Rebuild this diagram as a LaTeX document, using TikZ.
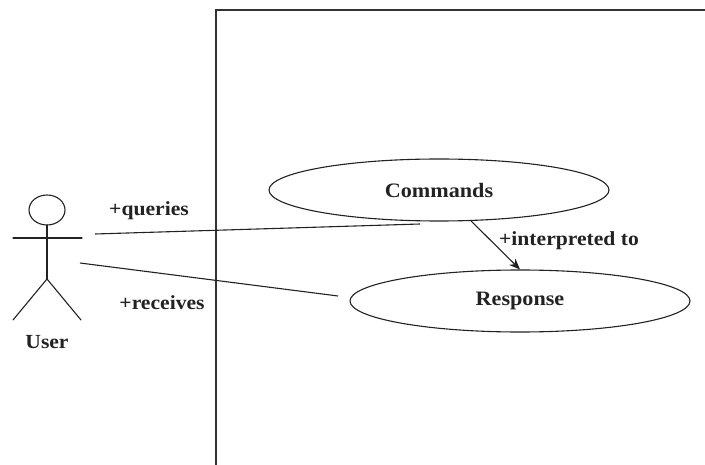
\documentclass[tikz,border=0pt]{standalone}
\usepackage{fontspec}
\setmainfont{Liberation Serif}[FakeStretch=1.08]
\usetikzlibrary{shapes.geometric,arrows.meta}
\definecolor{ink}{HTML}{222222}
\begin{document}
\begin{tikzpicture}[x=1pt,y=-1pt,
  usecase/.style={ellipse,draw=ink,line width=1.1pt,minimum width=340pt,minimum height=62pt,inner sep=0pt,font=\fontsize{20.5}{22}\selectfont\bfseries,text=ink},
  lbl/.style={font=\fontsize{20}{22}\selectfont\bfseries,text=ink,inner sep=0pt},
  conn/.style={draw=ink,line width=1.1pt},
  figure/.style={draw=ink,line width=1.1pt,line cap=round}]
\useasboundingbox (0,0) rectangle (705,465);
% system boundary
\draw[draw=black!80,line width=1.6pt] (216,470) -- (216,10) -- (710,10);
% actor
\draw[figure] (47,210) ellipse [x radius=18, y radius=15];
\draw[figure] (13,238) -- (82,238);
\draw[figure] (47,225) -- (47,279);
\draw[figure] (13,320) -- (47,279) -- (81,320);
\node[lbl] (user) at (47,342) {User};
\coordinate (armR) at (95,234);
\coordinate (hipR) at (80,263);
% use cases
\node[usecase] (cmd) at (439,190) {Commands};
\node[usecase] (rsp) at (520,301) {Response};
\coordinate (qend) at (420,224);
\coordinate (rend) at (338,296);
% connectors
\draw[conn] (armR) -- (qend);
\draw[conn] (hipR) -- (rend);
\draw[conn,-{Stealth[length=11pt,width=9pt]}] (cmd.-44) -- (rsp.north);
% labels
\node[lbl] (lq) at (149,211) {+queries};
\node[lbl] (lr) at (162,303) {+receives};
\node[lbl] (li) at (569,241) {+interpreted to};
\end{tikzpicture}
\end{document}
